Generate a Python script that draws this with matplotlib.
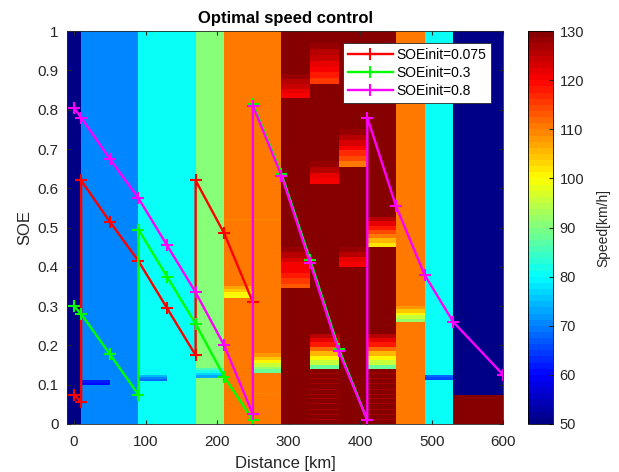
import matplotlib
matplotlib.use("Agg")
import matplotlib.pyplot as plt
from matplotlib.colors import ListedColormap
import numpy as np

plt.rcParams['font.family'] = ['Liberation Sans', 'DejaVu Sans']

# background speed map: 40 km wide columns, SOE on y
col_edges = [-30, 10, 50, 90, 130, 170, 210, 250, 290, 330, 370, 410, 450, 490, 530, 570, 610]
base_speed = [50, 70, 70, 80, 80, 90, 110, 110, 130, 130, 130, 130, 110, 80, 50, 50]

# bands per column: (soe_low, soe_high, speeds from top to bottom)
bands = {
    1: [(0.099, 0.112, [62, 60])],
    3: [(0.110, 0.125, [74, 70, 68])],
    5: [(0.117, 0.142, [86, 82, 77, 73])],
    6: [(0.320, 0.360, [110, 107, 104, 101, 99]), (0.520, 0.523, [109])],
    7: [(0.130, 0.180, [108, 104, 100, 96, 92, 88]), (0.520, 0.523, [109]),
        (0.076, 0.079, [109])],
    8: [(0.830, 0.890, [128, 126, 124, 122, 121]),
        (0.345, 0.450, [128, 126, 123, 121, 120, 118, 116, 113])],
    9: [(0.865, 0.970, [128, 126, 124, 122, 120, 118, 115]),
        (0.610, 0.670, [128, 125, 122, 120]),
        (0.140, 0.230, [126, 122, 118, 112, 106, 100, 95, 88])],
    10: [(0.655, 0.750, [128, 126, 123, 120, 117, 114, 111]),
         (0.400, 0.450, [128, 125, 122, 120])],
    11: [(0.450, 0.527, [126, 122, 118, 114, 110, 106, 102]),
         (0.140, 0.230, [126, 122, 118, 112, 106, 100, 95, 88])],
    12: [(0.260, 0.300, [108, 104, 100, 96, 92])],
    13: [(0.112, 0.125, [68, 66])],
    14: [(0.0, 0.074, [130])],
    15: [(0.0, 0.074, [130])],
}
stripe_cols = [9, 11]
stripe_soe = [0.012, 0.025, 0.038, 0.051, 0.064, 0.076, 0.089, 0.102, 0.115, 0.127]
stripe_speed = 127

# optimal trajectories
red_x = [0, 10, 10, 50, 90, 130, 170, 170, 210, 250]
red_y = [0.075, 0.055, 0.62, 0.515, 0.415, 0.295, 0.175, 0.62, 0.485, 0.31]
green_x = [0, 10, 50, 90, 90, 130, 170, 210, 250, 250, 290, 330, 370, 410]
green_y = [0.30, 0.28, 0.178, 0.075, 0.495, 0.375, 0.255, 0.12, 0.01, 0.815, 0.637, 0.418, 0.192, 0.01]
mag_x = [0, 10, 50, 90, 130, 170, 210, 250, 250, 290, 330, 370, 410, 410, 450, 490, 530, 600]
mag_y = [0.805, 0.78, 0.675, 0.575, 0.455, 0.335, 0.2, 0.025, 0.81, 0.632, 0.41, 0.185, 0.01,
         0.78, 0.555, 0.38, 0.26, 0.125]


def matlab_jet(n=64):
    t = (np.arange(n) + 0.5) / n
    r = np.clip(np.minimum(4 * t - 1.5, -4 * t + 4.5), 0, 1)
    g = np.clip(np.minimum(4 * t - 0.5, -4 * t + 3.5), 0, 1)
    b = np.clip(np.minimum(4 * t + 0.5, -4 * t + 2.5), 0, 1)
    return ListedColormap(np.column_stack([r, g, b]))


nrow = 800
y_edges = np.linspace(0, 1, nrow + 1)
yc = (y_edges[:-1] + y_edges[1:]) / 2
Z = np.tile(np.array(base_speed, dtype=float), (nrow, 1))
for c, blist in bands.items():
    for lo, hi, vals in blist:
        sub = np.linspace(hi, lo, len(vals) + 1)
        for k, v in enumerate(vals):
            Z[(yc <= sub[k]) & (yc > sub[k + 1]), c] = v
for c in stripe_cols:
    for s in stripe_soe:
        Z[np.abs(yc - s) < 0.0013, c] = stripe_speed

fig = plt.figure(figsize=(6.19, 4.72), dpi=100)
ax = fig.add_axes([0.108, 0.1017, 0.705, 0.8323])
cax = fig.add_axes([0.8535, 0.1017, 0.0394, 0.8323])

im = ax.pcolormesh(col_edges, y_edges, Z, cmap=matlab_jet(), vmin=50, vmax=130, shading='flat')

ax.plot(red_x, red_y, color=(1, 0, 0), lw=1.7, marker='+', ms=8, mew=1.5, label='SOEinit=0.075')
ax.plot(green_x, green_y, color=(0, 1, 0), lw=1.7, marker='+', ms=8, mew=1.5, label='SOEinit=0.3')
ax.plot(mag_x, mag_y, color=(1, 0, 1), lw=1.7, marker='+', ms=8, mew=1.5, label='SOEinit=0.8')

ax.set_xlim(-10, 600)
ax.set_ylim(0, 1)
ax.set_xticks(np.arange(0, 601, 100))
ax.set_yticks(np.arange(0, 1.01, 0.1))
ax.set_yticklabels(['0', '0.1', '0.2', '0.3', '0.4', '0.5', '0.6', '0.7', '0.8', '0.9', '1'])
ax.tick_params(direction='in', top=True, right=True, labelsize=11, colors='#262626', length=3)
ax.tick_params(axis='x', pad=8)
ax.tick_params(axis='y', pad=6)
for sp in ax.spines.values():
    sp.set_color('#262626')
    sp.set_linewidth(0.6)
ax.set_xlabel('Distance [km]', fontsize=12, color='#262626', labelpad=5)
ax.set_ylabel('SOE', fontsize=12, color='#262626', labelpad=4)
ax.set_title('Optimal speed control', fontsize=12, fontweight='bold', pad=6)

leg = ax.legend(loc='upper right', fontsize=10, handlelength=3.2, handletextpad=0.3,
                labelspacing=0.3, borderaxespad=0.85, fancybox=False, framealpha=1,
                borderpad=0.35)
leg.get_frame().set_edgecolor('#262626')
leg.get_frame().set_linewidth(0.6)

cb = fig.colorbar(im, cax=cax)
cb.set_ticks(np.arange(50, 131, 10))
cb.ax.tick_params(direction='in', labelsize=10.5, colors='#262626', length=3, pad=5)
cb.outline.set_linewidth(0.6)
cb.set_label('Speed[km/h]', fontsize=10, color='#262626', labelpad=9)

fig.savefig('out.png', dpi=100)
